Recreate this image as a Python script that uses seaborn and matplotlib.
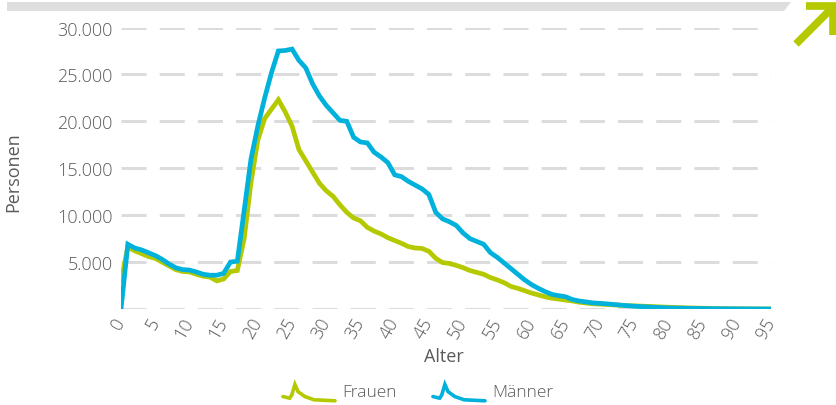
import numpy as np
import pandas as pd
import matplotlib
matplotlib.use("Agg")
import matplotlib.pyplot as plt
import seaborn as sns
from matplotlib.lines import Line2D
from matplotlib.patches import Polygon
from matplotlib.legend_handler import HandlerBase

# Altersverteilung nach Geschlecht
alter = list(range(0, 96))

frauen = [3000, 6600, 6200, 5900, 5600, 5400, 5000, 4600, 4200, 4000,
          3950, 3700, 3500, 3400, 3000, 3200, 4000, 4100, 7500, 13500,
          18000, 20300, 21300, 22300, 21000, 19500, 17000, 15800, 14600, 13400,
          12600, 12000, 11100, 10300, 9700, 9400, 8700, 8300, 8000, 7600,
          7300, 7000, 6650, 6500, 6450, 6150, 5400, 4950, 4850, 4650,
          4400, 4100, 3900, 3700, 3350, 3100, 2800, 2400, 2200, 1950,
          1700, 1500, 1300, 1150, 1050, 950, 850, 720, 630, 560,
          520, 480, 440, 400, 370, 340, 310, 280, 250, 220,
          190, 160, 140, 120, 100, 85, 70, 55, 45, 35,
          25, 18, 12, 8, 5, 3]

maenner = [0, 6900, 6500, 6300, 6000, 5700, 5300, 4800, 4400, 4200,
           4150, 3950, 3700, 3600, 3600, 3800, 5000, 5100, 10500, 16000,
           19500, 22500, 25200, 27500, 27550, 27700, 26500, 25700, 24000, 22700,
           21700, 20900, 20100, 20000, 18300, 17800, 17700, 16700, 16200, 15600,
           14300, 14100, 13600, 13200, 12800, 12200, 10300, 9600, 9300, 8900,
           8100, 7500, 7200, 6900, 6000, 5500, 4900, 4300, 3700, 3100,
           2600, 2200, 1850, 1550, 1420, 1300, 1000, 850, 750, 650,
           600, 550, 480, 420, 350, 300, 260, 220, 180, 150,
           120, 100, 85, 70, 60, 50, 40, 30, 25, 20,
           15, 10, 8, 5, 3, 2]

serien = ["Frauen", "Männer"]
farben = ["#b5c900", "#00b2db"]

y_ticks = [0, 5000, 10000, 15000, 20000, 25000, 30000]
y_labels = ["", "5.000", "10.000", "15.000", "20.000", "25.000", "30.000"]
x_ticks = list(range(0, 96, 5))

df = pd.concat([
    pd.DataFrame({"Alter": alter, "Personen": frauen, "Geschlecht": serien[0]}),
    pd.DataFrame({"Alter": alter, "Personen": maenner, "Geschlecht": serien[1]}),
])

W, H = 836, 406
TXT = "#5a5a5a"
FONT = ["Open Sans", "DejaVu Sans"]

sns.set_theme(style="white")
plt.rcParams["font.family"] = FONT
plt.rcParams["font.weight"] = "light"

fig = plt.figure(figsize=(W / 100, H / 100), dpi=100)


def fx(px):
    return px / W


def fy(py):
    return 1 - py / H


AX_L, AX_R, AX_T, AX_B = 121, 771, 28.5, 310
ax = fig.add_axes([fx(AX_L), fy(AX_B), (AX_R - AX_L) / W, (AX_B - AX_T) / H])

sns.lineplot(data=df, x="Alter", y="Personen", hue="Geschlecht",
             palette=dict(zip(serien, farben)), linewidth=3.4,
             legend=False, ax=ax, solid_joinstyle="miter", zorder=3)

ax.set_xlim(0, 95)
ax.set_ylim(0, 30000)
ax.set_yticks(y_ticks)
ax.set_yticklabels(y_labels)
ax.set_xticks(x_ticks)
ax.set_xticklabels([str(v) for v in x_ticks], rotation=60, ha="right",
                   va="center", rotation_mode="anchor")
ax.tick_params(axis="both", length=0, labelcolor=TXT, labelsize=13)
ax.tick_params(axis="y", pad=6)
ax.tick_params(axis="x", pad=7)

ax.yaxis.grid(True, color="#dcdcdc", linewidth=2.2, linestyle=(0, (8.2, 4.3)))
ax.xaxis.grid(False)
for s in ax.spines.values():
    s.set_visible(False)

ax.set_xlabel("Alter", color=TXT, fontsize=13)
ax.set_ylabel("Personen", color=TXT, fontsize=13)
aw, ah = AX_R - AX_L, AX_B - AX_T
ax.xaxis.set_label_coords((444 - AX_L) / aw, -(348 - AX_B) / ah)
ax.yaxis.set_label_coords(-(AX_L - 22) / aw, (AX_B - 172) / ah)


# Legendensymbol: kleine Zacke im Linienstil der Reihe
class SpikeHandler(HandlerBase):
    sx = [0.0, 0.13, 0.17, 0.23, 0.29, 0.42, 0.6, 1.0]
    sy = [0.26, 0.16, 0.36, 1.0, 0.56, 0.26, 0.06, 0.0]

    def create_artists(self, legend, orig_handle, xdescent, ydescent,
                       width, height, fontsize, trans):
        xs = [-xdescent + v * width for v in self.sx]
        ys = [-ydescent + (-0.2 + 1.05 * v) * height for v in self.sy]
        ln = Line2D(xs, ys, color=orig_handle.get_color(), linewidth=2.6,
                    solid_joinstyle="miter", transform=trans)
        return [ln]


handles = [Line2D([], [], color=c) for c in farben]
leg = fig.legend(handles, serien, loc="center", bbox_to_anchor=(fx(418), fy(392)),
                 ncol=2, frameon=False, fontsize=12.5, handlelength=3.0,
                 handleheight=1.0, handletextpad=0.4, columnspacing=2.1,
                 handler_map={Line2D: SpikeHandler()})
for t in leg.get_texts():
    t.set_color(TXT)

# Kopfleiste mit schrägem Ende
bar = Polygon([(fx(7), fy(3)), (fx(791), fy(3)), (fx(784), fy(12)), (fx(7), fy(12))],
              closed=True, facecolor="#dedede", edgecolor="none",
              transform=fig.transFigure)
fig.patches.append(bar)

# Pfeil oben rechts
pfeil = [Line2D([fx(796), fx(834)], [fy(45), fy(7)]),
         Line2D([fx(806), fx(836)], [fy(7), fy(7)]),
         Line2D([fx(833), fx(833)], [fy(7), fy(36)])]
for p in pfeil:
    p.set_color("#b5c900")
    p.set_linewidth(5.5)
    p.set_solid_capstyle("butt")
    p.set_transform(fig.transFigure)
    fig.lines.append(p)

fig.savefig("out.png", dpi=100)
